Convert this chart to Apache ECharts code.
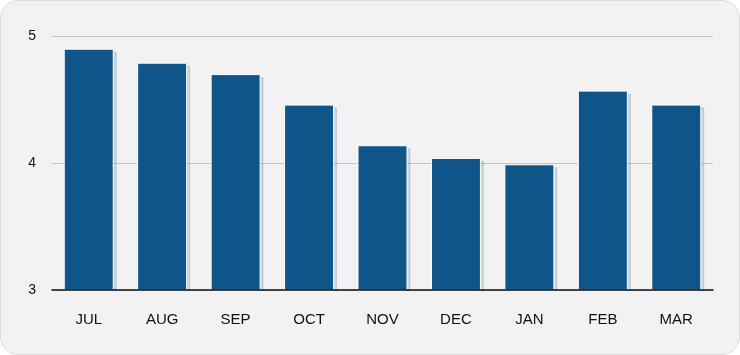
<!DOCTYPE html>
<html>
<head>
<meta charset="utf-8">
<script src="https://cdn.jsdelivr.net/npm/echarts@6/dist/echarts.min.js"></script>
<style>
  html, body { margin: 0; padding: 0; background: #fff; }
  #box {
    width: 738px; height: 353px;
    border: 1px solid #dcdcdc; border-radius: 18px;
    background: #f2f2f2; overflow: hidden;
  }
  #chart { width: 738px; height: 353px; }
</style>
</head>
<body>
<div id="box"><div id="chart"></div></div>
<script>
  // months and values
  var months = ['JUL', 'AUG', 'SEP', 'OCT', 'NOV', 'DEC', 'JAN', 'FEB', 'MAR'];
  var values = [4.90, 4.79, 4.70, 4.46, 4.14, 4.04, 3.99, 4.57, 4.46];
  var yTicks = [3, 4, 5];

  var chart = echarts.init(document.getElementById('chart'));
  var option = {
    animation: false,
    grid: { left: 51, right: 26, top: 35, bottom: 64 },
    // hides the bar shadows that spill under the baseline
    graphic: [{
      type: 'rect', z: 5, left: 40, top: 290,
      shape: { width: 690, height: 5 },
      style: { fill: '#f2f2f2' }
    }],
    xAxis: {
      type: 'category',
      data: months,
      z: 10,
      axisLine: { lineStyle: { color: '#111', width: 1.5 } },
      axisTick: { show: false },
      axisLabel: { color: '#111', fontSize: 15, fontFamily: 'Liberation Sans', margin: 22 }
    },
    yAxis: {
      type: 'value',
      min: yTicks[0],
      max: yTicks[yTicks.length - 1],
      interval: 1,
      axisLine: { show: false },
      axisTick: { show: false },
      splitLine: { lineStyle: { color: '#c4c4c4' } },
      axisLabel: { color: '#111', fontSize: 14, fontFamily: 'Liberation Sans', margin: 16 }
    },
    series: [{
      type: 'bar',
      data: values,
      barWidth: 50,
      itemStyle: {
        color: '#10558a',
        borderColor: '#ffffff',
        borderWidth: 1,
        shadowColor: 'rgba(30,90,140,0.18)',
        shadowOffsetX: 3,
        shadowOffsetY: 3,
        shadowBlur: 0
      }
    }]
  };
  chart.setOption(option);
</script>
</body>
</html>
